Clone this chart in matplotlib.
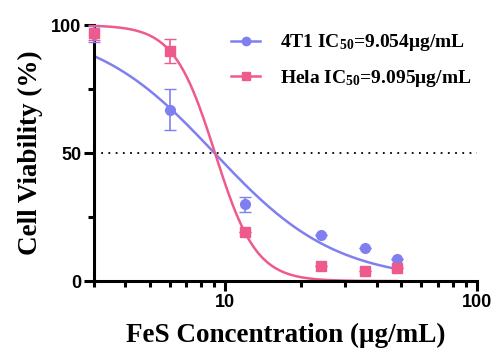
import numpy as np
import matplotlib.pyplot as plt
from matplotlib.ticker import FixedLocator, NullFormatter

plt.rcParams['mathtext.fontset'] = 'custom'
plt.rcParams['mathtext.rm'] = 'Liberation Serif:bold'
plt.rcParams['mathtext.it'] = 'Liberation Serif:bold'

# data
conc = [3, 6, 12, 24, 36, 48]
t1_mean = [96.5, 67, 30, 18, 13, 8.6]
t1_err = [3, 8, 3, 0, 0, 0]
hela_mean = [97, 90, 19, 6, 4, 5]
hela_err = [3, 4.7, 0, 0, 0, 0]

# fitted curve parameters (4PL, top 100 / bottom 0)
t1_ic50, t1_hill = 9.054, 1.8
hela_ic50, hela_hill = 9.095, 5.3

blue = '#7f7ff0'
pink = '#ef5a8c'

def hill(x, ic50, h):
    return 100 / (1 + (x / ic50) ** h)

xs = np.logspace(np.log10(3), np.log10(48), 200)

fig = plt.figure(figsize=(4.99, 3.59), dpi=100)
ax = fig.add_axes([0.188, 0.217, 0.768, 0.713])

ax.axhline(50, color='black', linestyle=(0, (1, 3)), linewidth=1.3, zorder=1)

ax.plot(xs, hill(xs, t1_ic50, t1_hill), color=blue, linewidth=1.8)
ax.plot(xs, hill(xs, hela_ic50, hela_hill), color=pink, linewidth=1.8)
ax.errorbar(conc, t1_mean, yerr=t1_err, fmt='o', color=blue, markersize=7,
            capsize=4, elinewidth=1.2, clip_on=False, zorder=3)
ax.errorbar(conc, hela_mean, yerr=hela_err, fmt='s', color=pink, markersize=7,
            capsize=4, elinewidth=1.2, clip_on=False, zorder=3)

ax.set_xscale('log')
ax.set_xlim(3, 100)
ax.set_ylim(0, 100)
ax.xaxis.set_major_locator(FixedLocator([10, 100]))
ax.xaxis.set_minor_locator(FixedLocator([3, 4, 5, 6, 7, 8, 9, 20, 30, 40, 50, 60, 70, 80, 90]))
ax.xaxis.set_minor_formatter(NullFormatter())
ax.set_xticklabels(['10', '100'])
ax.yaxis.set_major_locator(FixedLocator([0, 50, 100]))
ax.yaxis.set_minor_locator(FixedLocator([25, 75]))

for s in ['top', 'right']:
    ax.spines[s].set_visible(False)
for s in ['left', 'bottom']:
    ax.spines[s].set_linewidth(2.2)
ax.tick_params(which='major', length=7, width=2.2, labelsize=13, pad=2)
ax.tick_params(which='minor', length=4, width=2.2)
for lab in ax.get_xticklabels() + ax.get_yticklabels():
    lab.set_fontweight('bold')
    lab.set_family('Liberation Sans')

ax.set_xlabel('FeS Concentration (μg/mL)', fontsize=19.5, fontweight='bold',
              family='Liberation Serif', labelpad=9)
ax.set_ylabel('Cell Viability (%)', fontsize=19.5, fontweight='bold',
              family='Liberation Serif', labelpad=6)

h1, = ax.plot([], [], marker='o', color=blue, markersize=6, linewidth=1.8)
h2, = ax.plot([], [], marker='s', color=pink, markersize=6, linewidth=1.8)
ax.legend([h1, h2], ['4T1 IC$_{50}$=9.054μg/mL', 'Hela IC$_{50}$=9.095μg/mL'],
          loc='upper right', bbox_to_anchor=(1.03, 1.04), frameon=False,
          handlelength=1.5, handletextpad=1.0, labelspacing=0.75,
          prop={'family': 'Liberation Serif', 'weight': 'bold', 'size': 14})

fig.savefig('out.png', dpi=100)
